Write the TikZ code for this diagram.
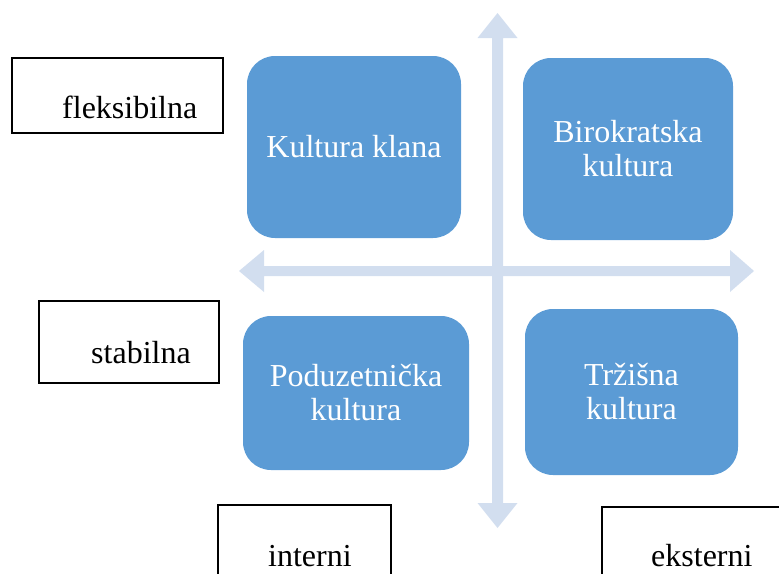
\documentclass[tikz,border=0pt]{standalone}
\usepackage{fontspec}
\setmainfont{Liberation Serif}
\definecolor{qblue}{RGB}{91,155,213}
\definecolor{axisblue}{RGB}{210,222,239}
\begin{document}
\begin{tikzpicture}[x=1pt,y=-1pt,
  quad/.style={fill=qblue, rounded corners=28pt, text=white, inner sep=0pt,
    font=\fontsize{32}{34}\selectfont, align=center},
  lab/.style={draw=black, line width=1.5pt, inner sep=0pt},
  labtxt/.style={font=\fontsize{32}{34}\selectfont, anchor=base west, inner sep=0pt}]
\useasboundingbox (0,0) rectangle (779,573);
% axes
\fill[axisblue] (239,271) -- (264,250) -- (264,266) -- (730,266) -- (730,250) -- (754,271)
  -- (730,292) -- (730,276) -- (264,276) -- (264,292) -- cycle;
\fill[axisblue] (497.5,13) -- (517.5,38) -- (503,38) -- (503,503) -- (517.5,503) -- (497.5,528)
  -- (477.5,503) -- (492,503) -- (492,38) -- (477.5,38) -- cycle;
% quadrants
\node[quad, minimum width=214pt, minimum height=182pt] (klan) at (354,147) {Kultura klana};
\node[quad, minimum width=210pt, minimum height=182pt] (biro) at (628,149) {Birokratska\\kultura};
\node[quad, minimum width=226pt, minimum height=154pt] (podu) at (356,393) {Poduzetnička\\kultura};
\node[quad, minimum width=213pt, minimum height=166pt] (trz) at (631.5,392) {Tržišna\\kultura};
% labels
\node[lab, minimum width=211pt, minimum height=75pt] (flexbox) at (117.5,95.5) {};
\node[labtxt] (flextxt) at (62,118) {fleksibilna};
\node[lab, minimum width=180pt, minimum height=82pt] (stabbox) at (129,342) {};
\node[labtxt] (stabtxt) at (91,363) {stabilna};
\node[lab, minimum width=173pt, minimum height=100pt] (intbox) at (304.5,555) {};
\node[labtxt] (inttxt) at (268,566) {interni};
\node[lab, minimum width=200pt, minimum height=100pt] (extbox) at (702,557) {};
\node[labtxt] (exttxt) at (651,566) {eksterni};
\end{tikzpicture}
\end{document}
